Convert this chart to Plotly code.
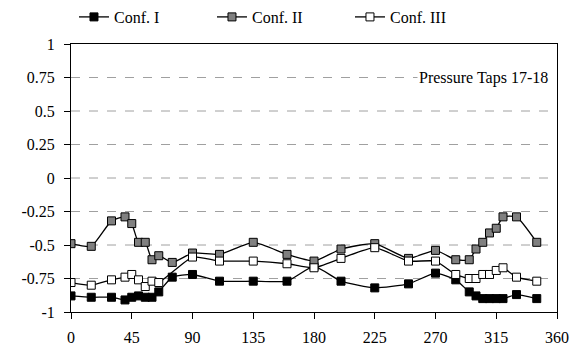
import plotly.graph_objects as go

angles = [0, 15, 30, 40, 45, 50, 55, 60, 65, 75, 90, 110, 135, 160, 180, 200, 225,
          250, 270, 285, 295, 300, 305, 310, 315, 320, 330, 345]
conf1 = [-0.88, -0.89, -0.89, -0.91, -0.89, -0.88, -0.89, -0.89, -0.85, -0.74, -0.72,
         -0.77, -0.77, -0.77, -0.66, -0.77, -0.82, -0.79, -0.71, -0.76, -0.85, -0.88,
         -0.90, -0.90, -0.90, -0.90, -0.87, -0.90]
conf2 = [-0.49, -0.51, -0.32, -0.29, -0.34, -0.48, -0.48, -0.61, -0.58, -0.63, -0.56,
         -0.57, -0.48, -0.57, -0.62, -0.53, -0.49, -0.60, -0.54, -0.61, -0.61, -0.53,
         -0.48, -0.41, -0.375, -0.29, -0.29, -0.48]
angles3 = [0, 15, 30, 40, 45, 50, 55, 60, 65, 90, 110, 135, 160, 180, 200, 225,
           250, 270, 285, 295, 300, 305, 310, 315, 320, 330, 345]
conf3 = [-0.78, -0.80, -0.76, -0.74, -0.72, -0.76, -0.81, -0.77, -0.78, -0.59,
         -0.62, -0.62, -0.64, -0.67, -0.60, -0.52, -0.62, -0.62, -0.72, -0.75, -0.75,
         -0.72, -0.72, -0.69, -0.67, -0.74, -0.77]
xticks = [0, 45, 90, 135, 180, 225, 270, 315, 360]
yticks = [-1, -0.75, -0.5, -0.25, 0, 0.25, 0.5, 0.75, 1]
ytext = ["-1", "-0.75", "-0.5", "-0.25", "0", "0.25", "0.5", "0.75", "1"]

FONT = "Liberation Serif, Times New Roman, serif"

fig = go.Figure()
series = [("Conf. I", angles, conf1, "black"),
          ("Conf. II", angles, conf2, "#808080"),
          ("Conf. III", angles3, conf3, "white")]
for name, xs, ys, fill in series:
    fig.add_trace(go.Scatter(
        x=xs, y=ys, name=name, mode="lines+markers",
        line=dict(color="black", width=1.3, shape="spline", smoothing=0.5),
        marker=dict(symbol="square", size=8, color=fill,
                    line=dict(color="black", width=1)),
    ))

# dashed gridlines at interior y ticks
for v in yticks[1:-1]:
    fig.add_shape(type="line", xref="paper", x0=0, x1=1, yref="y", y0=v, y1=v,
                  line=dict(color="#a0a0a0", width=1, dash="dash"), layer="below")

fig.add_annotation(x=355, y=0.75, xref="x", yref="y", text="Pressure Taps 17-18",
                   showarrow=False, xanchor="right", yanchor="middle",
                   bgcolor="white", font=dict(family=FONT, size=16, color="black"))

fig.update_layout(
    width=578, height=360,
    margin=dict(l=71, r=21, t=44, b=48),
    paper_bgcolor="white", plot_bgcolor="white",
    font=dict(family=FONT, size=16, color="black"),
    showlegend=True,
    legend=dict(orientation="h", xref="container", yref="container",
                x=0.128, xanchor="left", y=1.0, yanchor="top",
                entrywidth=93, entrywidthmode="pixels",
                font=dict(family=FONT, size=16), itemclick=False,
                bgcolor="rgba(0,0,0,0)"),
    xaxis=dict(range=[0, 360], tickvals=xticks, ticktext=[str(t) for t in xticks],
               showgrid=False, zeroline=False, showline=True, linecolor="black",
               linewidth=1, mirror=True, ticks="outside", ticklen=6,
               tickcolor="black", ticklabelstandoff=5, automargin=False),
    yaxis=dict(range=[-1, 1], tickvals=yticks, ticktext=ytext,
               showgrid=False, zeroline=False, showline=True, linecolor="black",
               linewidth=1, mirror=True, ticks="outside", ticklen=6,
               tickcolor="black", ticklabelstandoff=6, automargin=False),
)

fig.write_html("out.html", config={"displayModeBar": False},
               post_script="document.body.style.margin='0';")
